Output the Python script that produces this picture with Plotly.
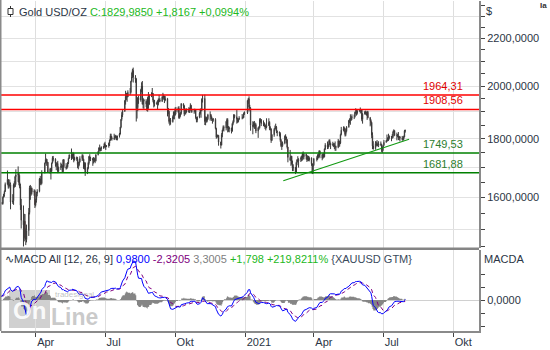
import math
import pandas as pd
import plotly.graph_objects as go

# Daily XAU/USD quotes in USD per troy ounce, one line per calendar month.
open_ = [
    1517,1528,1552,1566,1574,1556,1552,1562,1548,1545,1557,1552,1557,1560,1558,1557,1563,1572,1582,1567,1577,1576,  # 2020-01
    1589,1576,1553,1556,1566,1570,1572,1566,1565,1576,1584,1581,1601,1611,1620,1643,1659,1636,1642,1642,  # 2020-02
    1586,1590,1641,1636,1668,1674,1679,1649,1636,1576,1529,1515,1526,1477,1471,1498,1553,1632,1611,1630,1617,1621,  # 2020-03
    1577,1591,1613,1620,1661,1647,1646,1683,1714,1727,1717,1717,1683,1695,1687,1714,1731,1728,1713,1707,1713,  # 2020-04
    1686,1700,1702,1705,1685,1726,1702,1697,1702,1715,1730,1743,1732,1745,1747,1725,1734,1729,1709,1708,1718,  # 2020-05
    1730,1740,1727,1698,1714,1684,1697,1715,1737,1728,1730,1725,1727,1727,1722,1743,1754,1768,1761,1763,1771,1772,  # 2020-06
    1781,1770,1775,1775,1784,1795,1810,1803,1799,1802,1810,1807,1796,1810,1817,1842,1871,1887,1902,1941,1959,1970,1957,  # 2020-07
    1975,1975,2019,2038,2063,2035,2028,1911,1915,1954,1944,1985,2001,1929,1946,1940,1929,1908,1954,1929,1964,  # 2020-08
    1967,1970,1944,1931,1934,1931,1930,1947,1945,1940,1956,1954,1960,1944,1950,1912,1901,1863,1868,1862,1881,1898,  # 2020-09
    1887,1906,1900,1913,1877,1887,1893,1930,1922,1891,1901,1908,1899,1905,1907,1924,1904,1902,1902,1908,1878,1868,  # 2020-10
    1879,1894,1909,1904,1948,1951,1863,1877,1866,1873,1888,1888,1880,1872,1867,1871,1837,1806,1811,1812,1788,  # 2020-11
    1777,1815,1831,1841,1839,1863,1870,1838,1836,1839,1827,1855,1862,1887,1881,1871,1862,1871,1876,1877,1878,1894,  # 2020-12
    1895,1943,1950,1918,1913,1849,1845,1856,1845,1851,1828,1840,1840,1871,1870,1855,1856,1850,1843,1843,  # 2021-01
    1848,1860,1837,1835,1794,1814,1834,1838,1842,1826,1824,1819,1794,1775,1775,1784,1809,1806,1797,1770,  # 2021-02
    1734,1724,1738,1712,1697,1700,1683,1716,1726,1722,1727,1731,1731,1745,1736,1745,1738,1726,1734,1725,1732,1712,1685,  # 2021-03
    1708,1729,1728,1743,1737,1756,1744,1732,1744,1736,1764,1777,1770,1779,1793,1783,1777,1780,1778,1773,1772,  # 2021-04
    1769,1792,1779,1784,1815,1831,1837,1836,1815,1827,1843,1867,1869,1870,1877,1881,1881,1898,1896,1895,1903,  # 2021-05
    1906,1903,1908,1871,1891,1899,1893,1888,1898,1877,1866,1859,1812,1774,1764,1783,1779,1779,1776,1781,1780,1761,  # 2021-06
    1770,1776,1787,1791,1796,1803,1803,1808,1806,1808,1824,1829,1812,1812,1810,1804,1806,1802,1797,1799,1806,1828.1683,  # 2021-07
]
high = [
    1529,1553,1588,1576,1611,1558,1563,1563,1549,1558,1558,1561,1563,1568,1560,1566,1574,1588,1583,1577,1583,1590,
    1592,1578,1562,1567,1575,1576,1574,1569,1578,1585,1586,1604,1612,1623,1649,1689,1660,1650,1659,1649,
    1611,1646,1653,1671,1693,1703,1681,1673,1645,1596,1575,1549,1548,1504,1516,1567,1638,1641,1637,1632,1627,1625,
    1595,1618,1627,1664,1671,1662,1690,1716,1747,1730,1728,1718,1697,1698,1716,1738,1739,1731,1716,1718,1722,
    1702,1716,1712,1708,1727,1728,1714,1707,1718,1733,1744,1765,1746,1753,1749,1736,1737,1735,1718,1723,1738,
    1745,1744,1729,1717,1717,1700,1719,1739,1745,1736,1733,1735,1733,1731,1745,1756,1768,1779,1767,1772,1774,1785,
    1789,1777,1777,1786,1797,1818,1818,1808,1818,1812,1814,1811,1811,1821,1843,1872,1898,1906,1945,1981,1973,1971,1983,
    1992,2021,2055,2070,2075,2044,2032,1950,1957,1962,1989,2015,2020,1953,1949,1948,1942,1958,1976,1966,1975,
    1992,1972,1947,1945,1939,1944,1951,1965,1952,1960,1973,1966,1961,1960,1953,1914,1904,1874,1876,1886,1901,1901,
    1916,1918,1919,1921,1894,1898,1933,1932,1925,1908,1912,1912,1917,1915,1932,1926,1911,1911,1911,1910,1880,1882,
    1898,1911,1913,1951,1965,1966,1882,1880,1882,1892,1901,1891,1882,1874,1876,1875,1840,1814,1815,1813,1789,
    1820,1833,1848,1848,1865,1875,1875,1846,1844,1840,1857,1867,1891,1889,1906,1876,1874,1883,1891,1886,1897,1901,
    1944,1952,1959,1926,1917,1864,1862,1865,1859,1856,1841,1846,1875,1875,1872,1867,1860,1855,1848,1875,
    1875,1864,1845,1838,1817,1838,1848,1855,1846,1830,1826,1823,1799,1786,1790,1812,1816,1807,1797,1771,
    1760,1740,1739,1723,1710,1701,1719,1727,1738,1731,1737,1740,1750,1755,1749,1747,1741,1741,1739,1737,1734,1713,1711,
    1732,1738,1745,1748,1759,1758,1746,1748,1750,1765,1784,1790,1782,1797,1798,1786,1789,1784,1784,1790,1775,
    1799,1794,1792,1818,1843,1845,1844,1838,1829,1846,1869,1875,1890,1883,1890,1889,1900,1913,1907,1909,1909,
    1916,1910,1910,1894,1903,1904,1900,1903,1903,1880,1871,1861,1823,1791,1791,1790,1795,1786,1791,1790,1782,1771,
    1778,1795,1795,1815,1805,1818,1812,1810,1817,1829,1834,1831,1822,1817,1824,1810,1810,1810,1808,1811,1832,1833,
]
low = [
    1516,1525,1551,1557,1553,1541,1549,1544,1536,1543,1547,1550,1556,1547,1551,1551,1561,1572,1563,1564,1570,1570,
    1572,1548,1547,1554,1561,1567,1563,1562,1564,1574,1578,1578,1599,1603,1618,1642,1629,1630,1636,1563,
    1580,1577,1632,1634,1642,1651,1640,1630,1561,1504,1451,1466,1474,1455,1463,1482,1547,1593,1606,1610,1606,1567,
    1572,1584,1604,1617,1641,1640,1643,1679,1713,1705,1713,1681,1678,1659,1683,1713,1720,1702,1690,1700,1680,
    1684,1691,1698,1683,1683,1697,1692,1694,1700,1711,1729,1725,1728,1740,1717,1723,1722,1697,1693,1703,1716,
    1722,1722,1694,1692,1671,1677,1693,1709,1722,1721,1705,1713,1718,1714,1720,1741,1748,1757,1755,1756,1764,1768,
    1765,1760,1770,1768,1774,1792,1796,1793,1795,1797,1802,1795,1794,1804,1815,1838,1866,1880,1899,1927,1945,1938,1956,
    1964,1970,2016,2033,2014,2013,1863,1874,1902,1930,1938,1975,1927,1912,1911,1917,1902,1900,1911,1925,1956,
    1964,1936,1916,1920,1926,1907,1924,1937,1936,1937,1950,1946,1933,1940,1882,1891,1855,1848,1851,1859,1872,1871,
    1885,1890,1896,1873,1874,1881,1889,1912,1883,1889,1890,1896,1896,1895,1905,1896,1896,1892,1897,1873,1860,1860,
    1875,1889,1877,1902,1935,1850,1849,1859,1860,1869,1866,1872,1865,1855,1862,1834,1800,1802,1806,1775,1765,
    1776,1805,1828,1826,1830,1852,1823,1825,1823,1819,1826,1849,1859,1875,1855,1858,1860,1868,1871,1873,1876,1888,
    1891,1930,1901,1906,1829,1816,1841,1836,1835,1820,1803,1832,1837,1859,1846,1846,1843,1835,1830,1838,
    1847,1831,1830,1785,1792,1807,1830,1835,1820,1809,1808,1789,1770,1760,1771,1780,1795,1783,1765,1717,
    1722,1705,1709,1687,1687,1677,1683,1707,1718,1699,1718,1721,1723,1727,1727,1727,1718,1722,1721,1720,1705,1677,1678,
    1704,1720,1725,1731,1735,1731,1724,1729,1734,1734,1760,1763,1764,1771,1777,1763,1773,1770,1763,1757,1757,
    1766,1770,1772,1781,1812,1827,1823,1808,1809,1823,1840,1857,1851,1865,1869,1872,1878,1892,1885,1889,1900,
    1893,1896,1864,1855,1889,1889,1885,1869,1875,1845,1850,1802,1763,1761,1761,1772,1774,1772,1770,1774,1753,1750,
    1757,1775,1786,1789,1791,1792,1797,1791,1800,1802,1822,1809,1794,1805,1795,1795,1790,1794,1791,1795,1805,1822,
]
close = [
    1528,1552,1566,1574,1556,1552,1562,1548,1545,1557,1552,1557,1560,1558,1557,1563,1572,1582,1567,1577,1576,1589,
    1576,1553,1556,1566,1570,1572,1566,1565,1576,1584,1581,1601,1611,1620,1643,1659,1636,1642,1642,1586,
    1590,1641,1636,1668,1674,1679,1649,1636,1576,1529,1515,1526,1477,1471,1498,1553,1632,1611,1630,1617,1621,1577,
    1591,1613,1620,1661,1647,1646,1683,1714,1727,1717,1717,1683,1695,1687,1714,1731,1728,1713,1707,1713,1686,
    1700,1702,1705,1685,1726,1702,1697,1702,1715,1730,1743,1732,1745,1747,1725,1734,1729,1709,1708,1718,1730,
    1740,1727,1698,1714,1684,1697,1715,1737,1728,1730,1725,1727,1727,1722,1743,1754,1768,1761,1763,1771,1772,1781,
    1770,1775,1775,1784,1795,1810,1803,1799,1802,1810,1807,1796,1810,1817,1842,1871,1887,1902,1941,1959,1970,1957,1975,
    1975,2019,2038,2063,2035,2028,1911,1915,1954,1944,1985,2001,1929,1946,1940,1929,1908,1954,1929,1964,1967,
    1970,1944,1931,1934,1931,1930,1947,1945,1940,1956,1954,1960,1944,1950,1912,1901,1863,1868,1862,1881,1898,1887,
    1906,1900,1913,1877,1887,1893,1930,1922,1891,1901,1908,1899,1905,1907,1924,1904,1902,1902,1908,1878,1868,1879,
    1894,1909,1904,1948,1951,1863,1877,1866,1873,1888,1888,1880,1872,1867,1871,1837,1806,1811,1812,1788,1777,
    1815,1831,1841,1839,1863,1870,1838,1836,1839,1827,1855,1862,1887,1881,1871,1862,1871,1876,1877,1878,1894,1895,
    1943,1950,1918,1913,1849,1845,1856,1845,1851,1828,1840,1840,1871,1870,1855,1856,1850,1843,1843,1848,
    1860,1837,1835,1794,1814,1834,1838,1842,1826,1824,1819,1794,1775,1775,1784,1809,1806,1797,1770,1734,
    1724,1738,1712,1697,1700,1683,1716,1726,1722,1727,1731,1731,1745,1736,1745,1738,1726,1734,1725,1732,1712,1685,1708,
    1729,1728,1743,1737,1756,1744,1732,1744,1736,1764,1777,1770,1779,1793,1783,1777,1780,1778,1773,1772,1769,
    1792,1779,1784,1815,1831,1837,1836,1815,1827,1843,1867,1869,1870,1877,1881,1881,1898,1896,1895,1903,1906,
    1903,1908,1871,1891,1899,1893,1888,1898,1877,1866,1859,1812,1774,1764,1783,1779,1779,1776,1781,1780,1761,1770,
    1776,1787,1791,1796,1803,1803,1808,1806,1808,1824,1829,1812,1812,1810,1804,1806,1802,1797,1799,1806,1828.1683,1829.985,
]

# Weekdays on which no session was quoted
closed_days = ["2020-04-10", "2020-12-25", "2021-01-01", "2021-04-02"]

# Support / resistance levels and the rising trend line
resistance_levels = [1964.31, 1908.56]
support_levels = [1749.53, 1681.88]
trend_dates = ["2021-02-20", "2021-08-04"]
trend_prices = [1655, 1798]

# Axis ticks
month_ticks = ["2020-04-01", "2020-07-01", "2020-10-01", "2021-01-01",
               "2021-04-01", "2021-07-01", "2021-10-01"]
month_labels = ["Apr", "Jul", "Okt", "2021", "Apr", "Jul", "Okt"]
price_grid = [1500, 1600, 1700, 1800, 1900, 2000, 2100, 2200, 2300]
price_labeled = [1600, 1800, 2000, 2200]
price_half = [1450, 1550, 1650, 1750, 1850, 1950, 2050, 2150, 2250, 2350]

# ---------------------------------------------------------------------------
all_days = pd.bdate_range("2020-01-02", "2021-07-30")
days = all_days[~all_days.isin(pd.to_datetime(closed_days))]
lens = {len(days), len(open_), len(high), len(low), len(close)}
if len(lens) != 1:
    raise ValueError(f"length mismatch: days={len(days)} o={len(open_)} h={len(high)} l={len(low)} c={len(close)}")

px_close = pd.Series(close, index=days)
ema_fast = px_close.ewm(span=12, adjust=False).mean()
ema_slow = px_close.ewm(span=26, adjust=False).mean()
macd = ema_fast - ema_slow
signal = macd.ewm(span=9, adjust=False).mean()
hist = macd - signal


def de(v, nd):
    return f"{v:.{nd}f}".replace(".", ",")


def signed(v, nd):
    return ("+" if v >= 0 else "-") + de(abs(v), nd)


last_c, prev_c = close[-1], close[-2]
chg = last_c - prev_c
pct = chg / prev_c * 100
m_last, s_last, h_last = macd.iloc[-1], signal.iloc[-1], hist.iloc[-1]
m_chg = macd.iloc[-1] - macd.iloc[-2]
m_pct = m_chg / abs(macd.iloc[-2]) * 100

# ---------------------------------------------------------------------------
FONT = "Liberation Sans"
TXT = "#2b3545"
GREEN_TXT = "#22b822"
X_START, X_END = "2020-02-15 12:00", "2021-11-03 19:00"

PL, PR, PT, PB = 1, 479, 1, 331   # plot area in pixels
W, H = PR - PL, PB - PT

# MACD pane: 81 px tall, zero line 50 px below its top, the swing high 39 px above zero
macd_unit = float(macd.max()) / 39.0          # value per pixel
macd_range = [-31 * macd_unit, 50 * macd_unit]
macd_step = 13 * macd_unit
macd_ticks = [-2 * macd_step, -macd_step, 0, macd_step, 2 * macd_step]


def fx(x):
    return (x - PL) / W


def fy(y):
    return (PB - y) / H


fig = go.Figure()

fig.add_trace(go.Candlestick(
    x=days, open=open_, high=high, low=low, close=close,
    xaxis="x", yaxis="y",
    increasing=dict(line=dict(color="#3a3a3a", width=1), fillcolor="#ffffff"),
    decreasing=dict(line=dict(color="#3a3a3a", width=1), fillcolor="#ff0000"),
    whiskerwidth=0, hoverinfo="skip", showlegend=False,
))

for lv in resistance_levels:
    fig.add_trace(go.Scatter(x=[X_START, X_END], y=[lv, lv], mode="lines",
                             line=dict(color="#ff0000", width=1.5),
                             xaxis="x", yaxis="y", hoverinfo="skip"))
for lv in support_levels:
    fig.add_trace(go.Scatter(x=[X_START, X_END], y=[lv, lv], mode="lines",
                             line=dict(color="#008000", width=1.5),
                             xaxis="x", yaxis="y", hoverinfo="skip"))
fig.add_trace(go.Scatter(x=trend_dates, y=trend_prices, mode="lines",
                         line=dict(color="#119911", width=1.1),
                         xaxis="x", yaxis="y", hoverinfo="skip"))

# MACD pane
fig.add_trace(go.Scatter(x=days, y=hist, mode="lines", line=dict(width=0, shape="hv"),
                         fill="tozeroy", fillcolor="#858585",
                         xaxis="x", yaxis="y2", hoverinfo="skip"))
fig.add_trace(go.Scatter(x=days, y=signal, mode="lines",
                         line=dict(color="#800080", width=1, dash="4px,3px"),
                         xaxis="x", yaxis="y2", hoverinfo="skip"))
fig.add_trace(go.Scatter(x=days, y=macd, mode="lines",
                         line=dict(color="#0000ff", width=1),
                         xaxis="x", yaxis="y2", hoverinfo="skip"))

axis_common = dict(ticks="outside", ticklen=4, tickcolor="#444444", tickwidth=1,
                   showline=True, linecolor="#8a8a8a", linewidth=2,
                   tickfont=dict(family=FONT, size=11, color=TXT), fixedrange=True)

fig.update_layout(
    width=550, height=350,
    margin=dict(l=PL, r=550 - PR, t=PT, b=350 - PB),
    paper_bgcolor="white", plot_bgcolor="white",
    showlegend=False, hovermode=False, separators=",.",
    font=dict(family=FONT, size=11, color=TXT),
    xaxis=dict(
        type="date", range=[X_START, X_END], anchor="y2",
        tickmode="array", tickvals=month_ticks, ticktext=month_labels,
        ticklabelposition="outside right",
        showgrid=True, gridcolor="#dedede", gridwidth=1, zeroline=False,
        rangeslider=dict(visible=False), **axis_common,
    ),
    yaxis=dict(
        type="log", domain=[fy(248), 1], anchor="x", side="right",
        range=[math.log10(1446.6), math.log10(2370.6)],
        tickmode="array", tickvals=price_grid,
        ticktext=[de(v, 4) if v in price_labeled else "" for v in price_grid],
        showgrid=True, gridcolor="#e2e2e2", gridwidth=1, zeroline=False,
        minor=dict(tickmode="array", tickvals=price_half, ticks="outside",
                   ticklen=4, tickcolor="#444444", showgrid=False),
        **axis_common,
    ),
    yaxis2=dict(
        domain=[0, fy(250)], anchor="x", side="right",
        range=macd_range,
        tickmode="array", tickvals=macd_ticks,
        ticktext=["", "", de(0, 4), "", ""],
        showgrid=False,
        zeroline=True, zerolinecolor="#d0d0d0", zerolinewidth=1,
        **axis_common,
    ),
)

shapes = [
    # left frame edge
    dict(type="line", xref="paper", yref="paper", x0=fx(0.5), x1=fx(0.5), y0=fy(0), y1=fy(PB),
         line=dict(color="#8a8a8a", width=2)),
    # separator between price and MACD panes
    dict(type="line", xref="paper", yref="paper", x0=fx(0), x1=fx(PR), y0=fy(248.8), y1=fy(248.8),
         line=dict(color="#858585", width=2.5)),
    # watermark box
    dict(type="rect", xref="paper", yref="paper", x0=fx(9), x1=fx(50), y0=fy(328), y1=fy(290),
         fillcolor="rgba(150,150,150,0.45)", line=dict(width=0), layer="below"),
    # series icon in the header
    dict(type="line", xref="paper", yref="paper", x0=fx(10.5), x1=fx(10.5), y0=fy(17), y1=fy(6),
         line=dict(color="#333333", width=1)),
    dict(type="rect", xref="paper", yref="paper", x0=fx(8), x1=fx(13), y0=fy(14.5), y1=fy(8.5),
         fillcolor="white", line=dict(color="#333333", width=1)),
]

header = (f"Gold USD/OZ <span style='color:{GREEN_TXT}'>C:{de(last_c, 4)} "
          f"{signed(chg, 4)} {signed(pct, 4)}%</span>")
macd_header = (f"∿MACD All [12, 26, 9] <span style='color:#0000ff'>{de(m_last, 4)}</span> "
               f"<span style='color:#800080'>{de(s_last, 4)}</span> "
               f"<span style='color:#808080'>{de(h_last, 4)}</span> "
               f"<span style='color:{GREEN_TXT}'>{signed(m_chg, 3)} {signed(m_pct, 4)}%</span> "
               f"<span style='color:#3a4a5c'>{{XAUUSD GTM}}</span>")

annotations = [
    dict(text=header, xref="paper", yref="paper", x=fx(17), y=fy(11.5),
         xanchor="left", yanchor="middle", showarrow=False, font=dict(size=11, color=TXT)),
    dict(text="$", xref="paper", yref="paper", x=fx(484), y=fy(11),
         xanchor="left", yanchor="middle", showarrow=False, font=dict(size=11, color=TXT)),
    dict(text="<b>Ia</b>", xref="paper", yref="paper", x=fx(549), y=fy(5.5),
         xanchor="right", yanchor="middle", showarrow=False, font=dict(size=8, color="#333333")),
    dict(text=macd_header, xref="paper", yref="paper", x=fx(3), y=fy(259),
         xanchor="left", yanchor="middle", showarrow=False, font=dict(size=11, color=TXT)),
    dict(text="MACDA", xref="paper", yref="paper", x=fx(482), y=fy(259),
         xanchor="left", yanchor="middle", showarrow=False, font=dict(size=11, color=TXT)),
    # watermark
    dict(text="<b>On</b>", xref="paper", yref="paper", x=fx(29.5), y=fy(310),
         xanchor="center", yanchor="middle", showarrow=False,
         font=dict(size=24, color="rgba(255,255,255,0.9)")),
    dict(text="<b>Line</b>", xref="paper", yref="paper", x=fx(49), y=fy(317),
         xanchor="left", yanchor="middle", showarrow=False,
         font=dict(size=23, color="rgba(150,150,150,0.5)")),
    dict(text="tradesignal", xref="paper", yref="paper", x=fx(53), y=fy(294),
         xanchor="left", yanchor="middle", showarrow=False,
         font=dict(size=8, color="rgba(150,150,150,0.6)")),
]
for lv in resistance_levels:
    annotations.append(dict(text=de(lv, 2), xref="paper", yref="y", x=fx(465), y=math.log10(lv),
                            xanchor="right", yanchor="bottom", yshift=1, showarrow=False,
                            font=dict(size=11, color="#e00000")))
for lv in support_levels:
    annotations.append(dict(text=de(lv, 2), xref="paper", yref="y", x=fx(465), y=math.log10(lv),
                            xanchor="right", yanchor="bottom", yshift=1, showarrow=False,
                            font=dict(size=11, color="#2d7d2d")))

fig.update_layout(shapes=shapes, annotations=annotations)
fig.write_html("out.html")
